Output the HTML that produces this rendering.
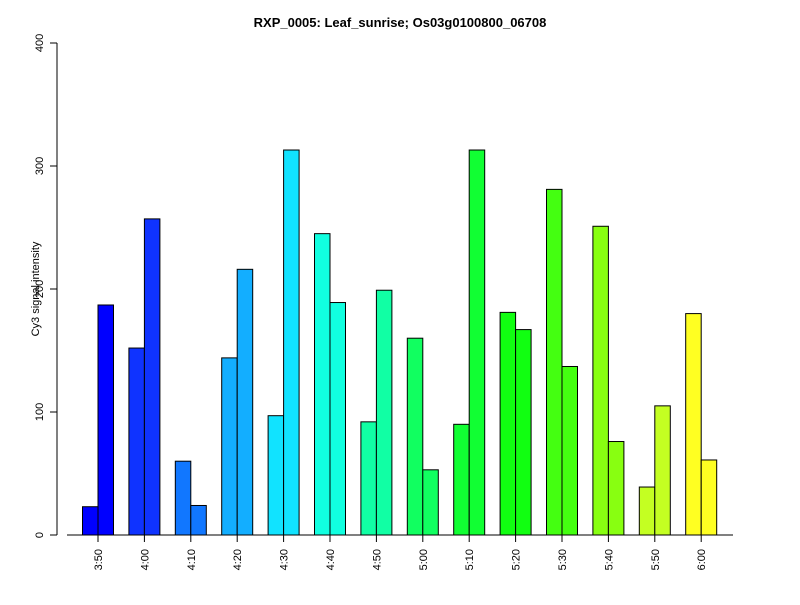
<!DOCTYPE html>
<html><head><meta charset="utf-8"><style>
body{margin:0;background:#fff;}
svg text{font-family:"Liberation Sans",sans-serif;}
</style></head><body>
<svg id="chart" width="800" height="600" xmlns="http://www.w3.org/2000/svg">
<text x="400" y="27" text-anchor="middle" font-size="13" font-weight="bold">RXP_0005: Leaf_sunrise; Os03g0100800_06708</text>
<text transform="translate(39,289) rotate(-90)" text-anchor="middle" font-size="11">Cy3 signal intensity</text>
<g id="axes"></g><g id="bars"></g>
</svg>
<script>
const categories=["3:50","4:00","4:10","4:20","4:30","4:40","4:50","5:00","5:10","5:20","5:30","5:40","5:50","6:00"];
const seriesA=[23,152,60,144,97,245,92,160,90,181,281,251,39,180];
const seriesB=[187,257,24,216,313,189,199,53,313,167,137,76,105,61];
const colors=["#0000FF","#0F33FF","#1177FF","#13AEFF","#11E3FF","#11FFE0","#11FFA4","#11FF60","#11FF33","#11FF11","#44FF11","#88FF11","#C4FF22","#FFFF22"];
const yTicks=[0,100,200,300,400];
const NS="http://www.w3.org/2000/svg";
const y=v=>535-v*492/400;
const xc=i=>98+i*46.4;
const axes=document.getElementById('axes'),bars=document.getElementById('bars');
function mk(tag,attrs,parent){const e=document.createElementNS(NS,tag);for(const k in attrs)e.setAttribute(k,attrs[k]);parent.appendChild(e);return e;}
let l=mk('line',{x1:57,x2:57,y1:y(0),y2:y(400),stroke:'#000'},axes);


l=mk('line',{x1:67,x2:733,y1:535,y2:535,stroke:'#000'},axes);


yTicks.forEach(t=>{
 const tk=mk('line',{x1:50,x2:57,y1:y(t),y2:y(t),stroke:'#000'},axes);
 
 
 const tx=mk('text',{transform:`translate(43,${y(t)}) rotate(-90)`,'text-anchor':'middle','font-size':11},axes);
 tx.textContent=t;
 
 
});
categories.forEach((c,i)=>{
 const cx=xc(i);
 const a=mk('rect',{x:cx-15.5,y:y(seriesA[i]),width:15.5,height:535-y(seriesA[i]),fill:colors[i],stroke:'#000','stroke-width':1},bars);
 
 
 const b=mk('rect',{x:cx,y:y(seriesB[i]),width:15.5,height:535-y(seriesB[i]),fill:colors[i],stroke:'#000','stroke-width':1},bars);
 
 
 const tk=mk('line',{x1:cx,x2:cx,y1:535,y2:542,stroke:'#000'},axes);
 
 
 const tx=mk('text',{transform:`translate(${cx+4},549) rotate(-90)`,'text-anchor':'end','font-size':11},axes);
 tx.textContent=c;
 
 
});
</script>
</body></html>
